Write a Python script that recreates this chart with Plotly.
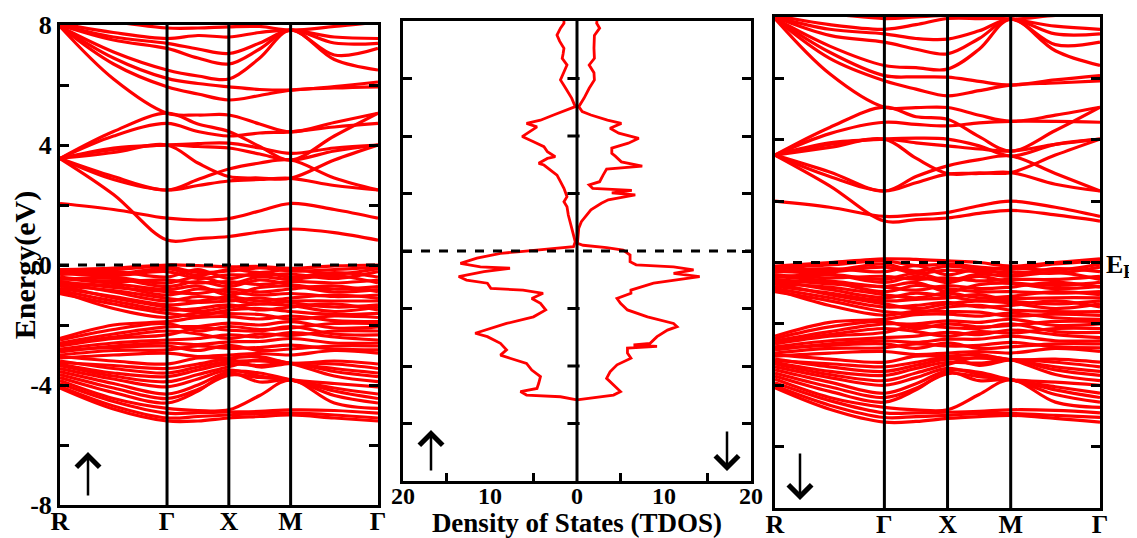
import plotly.graph_objects as go

# ---------------- data ----------------
KPTS = [0.0, 0.866, 1.732, 2.232, 2.732, 3.232, 3.732, 4.439, 5.146]
KLABEL_POS = [0.0, 1.732, 2.732, 3.732, 5.146]
KLABELS = ["R", "Γ", "X", "M", "Γ"]

# energies (eV) of each band at the KPTS positions (spin up)
UP_COND = [
    [3.55, 2.35, 0.83, 0.88, 0.95, 1.10, 1.20, 1.08, 0.83],
    [2.05, 1.85, 1.56, 1.50, 1.55, 1.80, 2.05, 1.85, 1.56],
    [3.55, 2.85, 2.50, 2.65, 2.80, 2.85, 2.89, 2.65, 2.50],
    [3.55, 2.95, 2.50, 2.85, 3.20, 3.40, 3.50, 2.90, 2.50],
    [3.55, 3.75, 4.00, 3.40, 2.95, 2.90, 2.89, 3.50, 4.00],
    [3.55, 3.85, 4.00, 3.95, 3.90, 3.70, 3.50, 3.80, 4.00],
    [3.55, 3.90, 4.00, 4.05, 4.06, 3.90, 3.72, 3.90, 4.00],
    [3.55, 4.30, 4.72, 4.45, 4.30, 4.40, 4.44, 4.60, 4.72],
    [3.55, 4.45, 5.06, 4.70, 4.45, 3.95, 3.50, 4.30, 5.06],
    [7.95, 6.20, 5.06, 5.00, 5.00, 4.70, 4.44, 4.75, 5.06],
    [7.95, 6.70, 5.94, 5.70, 5.50, 5.65, 5.83, 5.90, 5.94],
    [7.95, 6.90, 6.22, 6.05, 5.94, 5.85, 5.83, 5.95, 6.10],
    [7.95, 7.10, 6.50, 6.30, 6.20, 6.90, 7.83, 6.85, 6.50],
    [8.00, 7.50, 7.22, 6.90, 6.70, 7.20, 7.83, 7.00, 7.22],
    [8.00, 7.60, 7.39, 7.20, 7.05, 7.40, 7.83, 7.40, 7.39],
    [8.05, 7.75, 7.55, 7.65, 7.60, 7.75, 7.83, 7.60, 7.55],
    [8.20, 8.10, 7.90, 7.90, 7.94, 7.95, 7.83, 7.95, 8.10],
]
UP_VAL = [
    [-0.15, -0.10, 0.00, -0.02, -0.06, -0.05, -0.11, -0.03, 0.00],
    [-0.18, -0.30, -0.12, -0.35, -0.15, -0.25, -0.15, -0.30, -0.12],
    [-0.20, -0.15, -0.06, -0.25, -0.20, -0.10, -0.20, -0.15, -0.06],
    [-0.25, -0.35, -0.22, -0.45, -0.33, -0.35, -0.30, -0.45, -0.22],
    [-0.28, -0.40, -0.60, -0.40, -0.62, -0.40, -0.48, -0.35, -0.60],
    [-0.32, -0.22, -0.40, -0.15, -0.45, -0.25, -0.40, -0.25, -0.40],
    [-0.40, -0.55, -0.50, -0.60, -0.55, -0.65, -0.55, -0.60, -0.50],
    [-0.45, -0.62, -0.82, -0.70, -1.00, -0.75, -0.70, -0.90, -0.82],
    [-0.48, -0.45, -0.72, -0.55, -0.72, -0.50, -0.65, -0.80, -0.72],
    [-0.55, -0.75, -0.89, -0.95, -0.80, -0.90, -0.80, -0.70, -0.89],
    [-0.58, -0.90, -1.20, -1.05, -1.15, -1.30, -1.20, -1.20, -1.20],
    [-0.62, -0.70, -1.00, -0.80, -0.89, -1.00, -0.95, -1.05, -1.00],
    [-0.68, -1.10, -1.40, -1.55, -1.40, -1.30, -1.35, -1.55, -1.40],
    [-0.70, -0.85, -1.11, -1.20, -1.06, -1.20, -1.10, -1.00, -1.11],
    [-0.78, -1.05, -1.33, -1.25, -1.20, -1.10, -1.25, -1.40, -1.33],
    [-0.85, -1.20, -1.50, -1.45, -1.33, -1.50, -1.40, -1.30, -1.50],
    [-0.88, -1.45, -1.75, -1.60, -1.62, -1.65, -1.80, -1.70, -1.75],
    [-0.95, -1.30, -1.61, -1.70, -1.50, -1.45, -1.55, -1.65, -1.61],
    [-2.45, -2.00, -1.89, -1.75, -1.72, -1.80, -1.70, -1.85, -1.89],
    [-2.50, -2.15, -1.95, -2.20, -2.05, -2.15, -2.10, -1.95, -1.95],
    [-2.60, -2.30, -2.06, -2.05, -1.94, -2.00, -1.89, -2.10, -2.06],
    [-2.65, -2.40, -2.20, -2.30, -2.45, -2.30, -2.35, -2.20, -2.20],
    [-2.70, -2.45, -2.33, -2.10, -2.17, -2.20, -2.05, -2.30, -2.33],
    [-2.80, -2.60, -2.50, -2.45, -2.33, -2.40, -2.25, -2.40, -2.50],
    [-2.85, -2.75, -2.70, -2.85, -2.68, -2.85, -2.80, -2.70, -2.70],
    [-2.90, -2.70, -2.60, -2.65, -2.56, -2.55, -2.45, -2.60, -2.60],
    [-3.00, -2.85, -2.83, -2.70, -2.78, -2.75, -2.67, -2.80, -2.83],
    [-3.05, -3.20, -3.30, -3.10, -3.10, -3.05, -3.28, -3.20, -3.30],
    [-3.10, -3.00, -2.94, -3.05, -3.00, -2.95, -3.00, -2.85, -2.94],
    [-3.20, -3.45, -3.60, -3.40, -3.22, -3.20, -3.28, -3.45, -3.60],
    [-3.25, -3.35, -3.45, -3.30, -3.15, -3.40, -3.28, -3.30, -3.45],
    [-3.30, -3.60, -3.72, -3.50, -3.30, -3.35, -3.28, -3.55, -3.72],
    [-3.35, -3.70, -3.89, -3.65, -3.39, -3.15, -3.28, -3.70, -3.89],
    [-3.45, -3.80, -4.06, -3.80, -3.50, -3.70, -3.83, -3.95, -4.06],
    [-3.55, -3.95, -4.30, -4.00, -3.56, -3.60, -3.83, -4.10, -4.30],
    [-3.65, -4.10, -4.45, -4.15, -3.67, -3.75, -3.83, -4.20, -4.45],
    [-3.75, -4.25, -4.60, -4.20, -3.60, -3.90, -3.83, -4.35, -4.60],
    [-3.85, -4.45, -4.78, -4.85, -4.83, -4.35, -3.83, -4.60, -4.78],
    [-3.95, -4.55, -4.94, -4.92, -4.90, -4.88, -4.83, -4.85, -4.94],
    [-4.05, -4.70, -5.10, -5.05, -5.00, -4.95, -4.94, -5.00, -5.10],
    [-4.10, -4.80, -5.20, -5.20, -5.10, -5.05, -5.00, -5.10, -5.20],
]

# spin down
DN_COND = [
    [3.50, 2.50, 1.35, 1.40, 1.45, 1.60, 1.70, 1.55, 1.35],
    [2.00, 1.80, 1.50, 1.55, 1.63, 1.85, 2.00, 1.80, 1.50],
    [3.50, 2.80, 2.33, 2.60, 2.88, 2.90, 2.93, 2.55, 2.33],
    [3.50, 2.95, 2.33, 2.80, 3.15, 3.35, 3.47, 2.90, 2.33],
    [3.50, 3.75, 4.02, 3.40, 2.90, 2.92, 2.93, 3.50, 4.02],
    [3.50, 3.85, 4.02, 3.90, 3.80, 3.70, 3.63, 3.85, 4.02],
    [3.50, 3.90, 4.02, 4.05, 4.02, 3.80, 3.47, 3.85, 4.02],
    [3.50, 4.20, 4.57, 4.50, 4.45, 4.55, 4.60, 4.60, 4.57],
    [3.50, 4.40, 5.06, 4.75, 4.67, 4.10, 3.63, 4.30, 5.06],
    [7.95, 6.15, 5.06, 5.05, 5.05, 4.80, 4.60, 4.80, 5.06],
    [7.95, 6.65, 5.92, 5.65, 5.43, 5.60, 5.78, 5.85, 5.92],
    [7.95, 6.85, 6.09, 6.05, 6.04, 5.90, 5.78, 5.95, 6.09],
    [7.95, 7.05, 6.42, 6.35, 6.30, 6.95, 7.93, 6.90, 6.42],
    [8.00, 7.40, 7.18, 6.95, 6.80, 7.30, 7.93, 7.10, 7.18],
    [8.00, 7.60, 7.45, 7.30, 7.28, 7.55, 7.93, 7.45, 7.45],
    [8.05, 7.75, 7.60, 7.75, 7.95, 7.95, 7.93, 7.70, 7.60],
    [8.20, 8.10, 7.95, 8.00, 8.05, 8.05, 7.93, 8.05, 8.10],
]
DN_VAL = [
    [-0.12, 0.00, 0.12, 0.10, 0.05, 0.00, -0.12, 0.00, 0.12],
    [-0.15, -0.25, -0.05, -0.28, -0.12, -0.22, -0.18, -0.25, -0.05],
    [-0.18, -0.08, 0.05, -0.10, -0.05, -0.15, -0.20, -0.05, 0.05],
    [-0.25, -0.30, -0.15, -0.35, -0.25, -0.30, -0.30, -0.35, -0.15],
    [-0.28, -0.38, -0.55, -0.35, -0.58, -0.38, -0.45, -0.32, -0.55],
    [-0.32, -0.20, -0.30, -0.10, -0.40, -0.20, -0.40, -0.20, -0.30],
    [-0.40, -0.50, -0.45, -0.55, -0.50, -0.60, -0.55, -0.55, -0.45],
    [-0.45, -0.60, -0.78, -0.65, -0.95, -0.72, -0.68, -0.85, -0.78],
    [-0.48, -0.40, -0.65, -0.45, -0.65, -0.45, -0.65, -0.75, -0.65],
    [-0.55, -0.70, -0.80, -0.90, -0.75, -0.85, -0.80, -0.65, -0.80],
    [-0.58, -0.88, -1.15, -1.00, -1.10, -1.25, -1.18, -1.15, -1.15],
    [-0.62, -0.65, -0.95, -0.75, -0.85, -0.95, -0.95, -1.00, -0.95],
    [-0.68, -1.05, -1.35, -1.50, -1.35, -1.25, -1.32, -1.50, -1.35],
    [-0.70, -0.80, -1.05, -1.15, -1.00, -1.15, -1.10, -0.95, -1.05],
    [-0.78, -1.00, -1.25, -1.20, -1.15, -1.05, -1.25, -1.35, -1.25],
    [-0.85, -1.15, -1.45, -1.40, -1.30, -1.45, -1.40, -1.25, -1.45],
    [-0.88, -1.40, -1.72, -1.58, -1.60, -1.62, -1.75, -1.68, -1.72],
    [-0.95, -1.25, -1.60, -1.65, -1.45, -1.40, -1.55, -1.60, -1.60],
    [-2.40, -1.95, -1.85, -1.70, -1.68, -1.75, -1.65, -1.80, -1.85],
    [-2.48, -2.10, -1.92, -2.15, -2.00, -2.10, -2.05, -1.92, -1.92],
    [-2.55, -2.25, -2.00, -2.00, -1.90, -1.95, -1.85, -2.05, -2.00],
    [-2.62, -2.35, -2.15, -2.25, -2.40, -2.25, -2.30, -2.15, -2.15],
    [-2.65, -2.40, -2.28, -2.05, -2.12, -2.15, -2.00, -2.25, -2.28],
    [-2.75, -2.55, -2.45, -2.40, -2.28, -2.35, -2.20, -2.35, -2.45],
    [-2.80, -2.70, -2.65, -2.80, -2.62, -2.80, -2.75, -2.65, -2.65],
    [-2.85, -2.65, -2.55, -2.60, -2.50, -2.50, -2.40, -2.55, -2.55],
    [-2.95, -2.80, -2.78, -2.65, -2.72, -2.70, -2.60, -2.75, -2.78],
    [-3.00, -3.15, -3.25, -3.05, -3.05, -3.00, -3.17, -3.15, -3.25],
    [-3.05, -2.95, -2.90, -3.00, -2.95, -2.90, -2.95, -2.80, -2.90],
    [-3.15, -3.40, -3.55, -3.35, -3.15, -3.12, -3.17, -3.40, -3.55],
    [-3.20, -3.30, -3.40, -3.25, -3.10, -3.35, -3.17, -3.25, -3.40],
    [-3.25, -3.55, -3.68, -3.45, -3.25, -3.28, -3.17, -3.50, -3.68],
    [-3.30, -3.65, -3.85, -3.60, -3.32, -3.08, -3.17, -3.65, -3.85],
    [-3.40, -3.75, -4.00, -3.75, -3.45, -3.65, -3.82, -3.90, -4.00],
    [-3.50, -3.90, -4.26, -3.95, -3.52, -3.58, -3.82, -4.05, -4.26],
    [-3.60, -4.05, -4.40, -4.10, -3.62, -3.72, -3.82, -4.15, -4.40],
    [-3.70, -4.20, -4.55, -4.15, -3.58, -3.85, -3.82, -4.30, -4.55],
    [-3.80, -4.40, -4.72, -4.80, -4.80, -4.30, -3.82, -4.55, -4.72],
    [-3.92, -4.50, -4.90, -4.90, -4.88, -4.85, -4.80, -4.82, -4.90],
    [-4.02, -4.65, -5.05, -5.02, -4.98, -4.92, -4.92, -4.98, -5.05],
    [-4.08, -4.78, -5.20, -5.18, -5.08, -5.02, -4.98, -5.08, -5.20],
]

# total density of states (energy in eV, states/eV)
UP_DOS_E = [8.0, 7.92, 7.75, 7.51, 7.30, 7.05, 6.85, 6.70, 6.47, 6.24, 5.95, 5.66,
            5.31, 5.02, 4.90, 4.73, 4.55, 4.44, 4.32, 4.15, 3.98, 3.80, 3.63, 3.45,
            3.28, 3.22, 3.05, 2.99, 2.82, 2.64, 2.41, 2.18, 1.89, 1.71, 1.54, 1.25,
            0.79, 0.32, 0.15, 0.10, 0.05, 0.03, -0.02, -0.08, -0.25, -0.43, -0.55,
            -0.60, -0.72, -0.89, -1.01, -1.12, -1.30, -1.36, -1.47, -1.65, -1.82,
            -2.05, -2.29, -2.52, -2.75, -2.86, -2.98, -3.21, -3.44, -3.62, -3.73,
            -3.91, -4.14, -4.37, -4.60, -4.78, -4.89, -5.01, -5.07, -5.18]
UP_DOS_V = [1.5, 1.5, 1.9, 2.3, 2.0, 1.5, 1.6, 1.7, 1.15, 1.5, 1.9, 1.3,
            0.6, 0.2, 1.15, 2.7, 4.2, 5.8, 4.6, 5.4, 6.3, 5.0, 3.8, 3.4,
            2.5, 3.4, 4.4, 3.8, 3.1, 2.3, 1.9, 1.5, 1.15, 1.5, 1.15, 1.0,
            0.6, 0.2, 0.4, 2.0, 3.5, 4.6, 6.5, 8.8, 11.5, 13.4, 11.1,
            7.7, 10.7, 13.6, 12.7, 10.3, 9.9, 6.2, 3.9, 5.2, 4.2,
            3.6, 5.0, 8.1, 10.7, 11.7, 10.3, 8.8, 8.1, 8.8, 7.7,
            5.8, 5.2, 4.2, 4.4, 4.6, 6.5, 5.8, 1.9, 0.0]
DN_DOS_E = [8.0, 7.92, 7.75, 7.50, 7.05, 6.70, 6.47, 6.20, 5.95, 5.66, 5.31, 5.02,
            4.85, 4.73, 4.55, 4.44, 4.27, 4.10, 3.92, 3.75, 3.58, 3.40, 3.30, 3.10,
            2.95, 2.85, 2.64, 2.41, 2.30, 2.18, 2.11, 2.02, 1.95, 1.78, 1.66, 1.43,
            1.02, 0.79, 0.27, 0.20, 0.12, 0.03, -0.14, -0.37, -0.48, -0.55, -0.66,
            -0.78, -0.89, -1.01, -1.12, -1.36, -1.47, -1.65, -1.82, -2.05, -2.29,
            -2.52, -2.63, -2.75, -2.98, -3.21, -3.27, -3.32, -3.38, -3.55, -3.73,
            -3.96, -4.20, -4.43, -4.66, -4.89, -5.01, -5.18]
DN_DOS_V = [2.3, 2.26, 2.6, 2.0, 1.95, 2.0, 1.4, 1.95, 2.0, 1.4, 0.8, 0.2,
            0.6, 1.6, 3.5, 5.1, 3.8, 4.8, 7.1, 5.9, 4.0, 4.0, 4.4, 5.1,
            7.5, 3.4, 3.0, 2.6, 1.4, 1.8, 6.3, 4.0, 6.7, 3.6, 2.8, 1.6,
            0.5, 0.2, 0.05, 0.7, 3.4, 5.3, 6.1, 6.1, 6.8, 11.1, 13.4,
            11.1, 14.1, 11.5, 8.8, 6.2, 6.2, 4.6, 5.0, 5.8, 8.1,
            11.1, 11.5, 10.4, 9.2, 8.4, 6.5, 9.2, 5.8, 5.8, 6.2,
            4.6, 3.8, 3.4, 4.2, 5.0, 4.2, 0.0]

E_TICKS = [-8, -6, -4, -2, 0, 2, 4, 6, 8]
E_TICKTEXT = ["-8", "", "-4", "", "0", "", "4", "", "8"]
CENTER_TICKS = [-6, -4, -2, 2, 4, 6]
DOS_LABEL_POS = [-20, -10, 0, 10, 20]
DOS_LABELS = ["20", "10", "0", "10", "20"]
DOS_MINOR = [-15, -5, 5, 15]

# ---------------- figure ----------------
PAGE_OFF = 8                      # default page margin of the html body
W, H = 1137 - PAGE_OFF, 538 - PAGE_OFF
RED = "#ff0000"
FONT = "Liberation Serif"

def px_x(p):
    return (p - PAGE_OFF) / W

def px_y(p):
    return 1 - (p - PAGE_OFF) / H

fig = go.Figure()

def add_bands(bands, xa, ya):
    for b in bands:
        fig.add_trace(go.Scatter(x=KPTS, y=b, mode="lines", xaxis=xa, yaxis=ya,
                                 line=dict(color=RED, width=3.2, shape="spline", smoothing=1.0),
                                 hoverinfo="skip", showlegend=False))

add_bands(UP_COND + UP_VAL, "x", "y")
add_bands(DN_COND + DN_VAL, "x3", "y3")

fig.add_trace(go.Scatter(x=[-v for v in UP_DOS_V], y=UP_DOS_E, mode="lines", xaxis="x2", yaxis="y2",
                         line=dict(color=RED, width=2.8), showlegend=False))
fig.add_trace(go.Scatter(x=DN_DOS_V, y=DN_DOS_E, mode="lines", xaxis="x2", yaxis="y2",
                         line=dict(color=RED, width=2.8), showlegend=False))

tickfont = dict(family=FONT, size=26, color="black", weight="bold")
frame = dict(showline=True, linecolor="black", linewidth=3, mirror=True, showgrid=False,
             zeroline=False, automargin=False)

band_x = dict(range=[0, KPTS[-1]], tickvals=KLABEL_POS, ticktext=KLABELS, ticks="",
              tickfont=tickfont, ticklabelstandoff=-9, **frame)
band_y_common = dict(range=[-8, 8], tickvals=E_TICKS, ticks="inside", ticklen=9, tickwidth=3,
                     tickcolor="black", **{k: v for k, v in frame.items() if k != "mirror"})

fig.update_layout(
    width=W, height=H, margin=dict(l=0, r=0, t=0, b=0),
    paper_bgcolor="white", plot_bgcolor="white", showlegend=False,
    xaxis=dict(domain=[px_x(60), px_x(378)], anchor="y", **band_x),
    yaxis=dict(domain=[px_y(505), px_y(25)], anchor="x", ticktext=E_TICKTEXT,
               tickfont=tickfont, mirror="allticks",
               title=dict(text="Energy(eV)", font=dict(family=FONT, size=30, weight="bold", color="black"),
                          standoff=9),
               **band_y_common),
    xaxis2=dict(domain=[px_x(403), px_x(751)], anchor="y2", range=[-20, 20],
                tickvals=DOS_LABEL_POS, ticktext=DOS_LABELS, ticks="", ticklabelstandoff=-9,
                tickfont=dict(family=FONT, size=24, color="black", weight="bold"),
                minor=dict(tickvals=DOS_MINOR, ticks="inside", ticklen=8, tickwidth=3, tickcolor="black"),
                title=dict(text="Density of States (TDOS)",
                           font=dict(family=FONT, size=27, weight="bold", color="black"), standoff=3),
                **frame),
    yaxis2=dict(domain=[px_y(481), px_y(21)], anchor="x2", showticklabels=False,
                mirror="allticks", **band_y_common),
    xaxis3=dict(domain=[px_x(775), px_x(1100)], anchor="y3", **band_x),
    yaxis3=dict(domain=[px_y(508), px_y(17)], anchor="x3", showticklabels=False,
                mirror="allticks", **band_y_common),
)

# high-symmetry vertical lines and Fermi level
for xa, ya in (("x", "y"), ("x3", "y3")):
    for k in KLABEL_POS[1:-1]:
        fig.add_shape(type="line", xref=xa, yref=ya + " domain", x0=k, x1=k, y0=0, y1=1,
                      line=dict(color="black", width=3), layer="above")
    fig.add_shape(type="line", xref=xa + " domain", yref=ya, x0=0, x1=1, y0=0, y1=0,
                  line=dict(color="black", width=3, dash="dash"), layer="above")

# DOS zero line, its small ticks, and Fermi level
fig.add_shape(type="line", xref="x2", yref="y2 domain", x0=0, x1=0, y0=0, y1=1,
              line=dict(color="black", width=3), layer="above")
for e in CENTER_TICKS:
    fig.add_shape(type="line", xref="x2", yref="y2", x0=-1.1, x1=0.3, y0=e, y1=e,
                  line=dict(color="black", width=3), layer="above")
fig.add_shape(type="line", xref="x2 domain", yref="y2", x0=0, x1=1, y0=0, y1=0,
              line=dict(color="black", width=3, dash="dash"), layer="above")

# spin arrows (tip position, pixel offset of tail)
arrows = [(88, 452, 45), (431, 430, 42), (727, 471, -41), (800, 500, -48)]
for ax_px, ay_px, off in arrows:
    fig.add_annotation(x=px_x(ax_px), y=px_y(ay_px), xref="paper", yref="paper", text="",
                       showarrow=True, ax=0, ay=off, arrowhead=4, arrowsize=1.8,
                       arrowwidth=2.5, arrowcolor="black", standoff=0)

fig.add_annotation(x=px_x(1104), y=px_y(266), xref="paper", yref="paper", xanchor="left",
                   text="E<sub>F</sub>", showarrow=False,
                   font=dict(family=FONT, size=26, color="black", weight="bold"))

fig.write_html("out.html")
